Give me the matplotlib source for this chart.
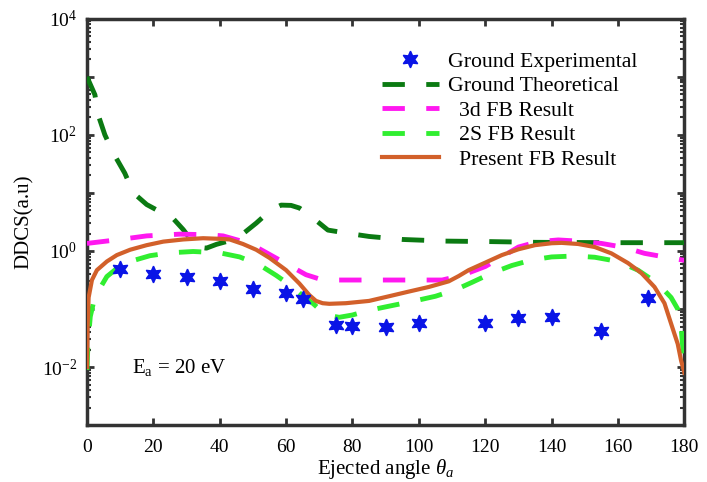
import numpy as np
import matplotlib
matplotlib.use("Agg")
import matplotlib.pyplot as plt
from matplotlib.ticker import LogLocator, FuncFormatter, NullFormatter

plt.rcParams['font.family'] = ['Liberation Serif', 'DejaVu Serif']
plt.rcParams['mathtext.fontset'] = 'custom'
plt.rcParams['mathtext.rm'] = 'Liberation Serif'
plt.rcParams['mathtext.it'] = 'Liberation Serif:italic'

# Ground Experimental (stars)
exp_x = [10, 20, 30, 40, 50, 60, 65, 75, 80, 90, 100, 120, 130, 140, 155, 169]
exp_y = [0.49, 0.40, 0.35, 0.30, 0.22, 0.19, 0.147, 0.054, 0.052, 0.050, 0.057,
         0.058, 0.070, 0.074, 0.042, 0.157]

# Ground Theoretical
theo_x = [0, 1.2, 2.4, 3.4, 5.4, 8, 11.4, 14, 18, 21, 25, 29, 33, 36, 39, 42, 46, 51,
          55.5, 58.5, 61.5, 64, 67, 72.6, 79, 85, 95, 108, 122, 135, 160, 180]
theo_y = [1000, 700, 490, 219, 100, 47.9, 21.9, 10, 6.31, 5.1, 4.17, 2.34, 1.17,
          1.12, 1.3, 1.45, 1.78, 3.02, 5.13, 6.17, 6.1, 5.5, 4.17, 2.29, 2.0, 1.78,
          1.58, 1.48, 1.45, 1.41, 1.39, 1.39]

# 3d FB Result
d3_x = [0, 10, 18, 28, 36, 41, 46, 51, 58, 66, 70, 74, 90, 107, 113, 120, 125, 130,
        136, 142, 148, 155, 162, 168, 174, 180]
d3_y = [1.35, 1.58, 1.82, 1.95, 1.91, 1.82, 1.51, 1.17, 0.70, 0.39, 0.33, 0.316,
        0.316, 0.316, 0.38, 0.54, 0.79, 1.17, 1.45, 1.55, 1.48, 1.35, 1.15, 0.91,
        0.79, 0.69]

# 2S FB Result
s2_x = [0, 0.3, 1, 2, 3, 6, 9, 13, 19, 25, 32, 40, 46, 52, 57, 62, 66, 68, 72, 76,
        80, 85, 92, 98, 105, 111, 116, 122, 128, 134, 140, 147, 153, 160, 166, 172,
        176, 178, 179, 180]
s2_y = [0.0089, 0.025, 0.074, 0.132, 0.186, 0.363, 0.50, 0.66, 0.83, 0.93, 0.98,
        0.93, 0.79, 0.575, 0.38, 0.24, 0.151, 0.126, 0.079, 0.072, 0.079, 0.095,
        0.115, 0.135, 0.166, 0.214, 0.288, 0.417, 0.562, 0.70, 0.79, 0.82, 0.78,
        0.66, 0.468, 0.275, 0.158, 0.10, 0.05, 0.010]

# Present FB Result
fb_x = [0, 0.2, 0.5, 1.5, 3, 6, 9, 13, 18, 23, 29, 35, 40, 43, 47, 51, 55, 60, 64,
        67, 69, 71, 73, 78, 85, 91, 97, 103, 109, 112, 115, 120, 125, 130, 135, 140,
        143, 148, 153, 158, 163, 167, 171, 174, 176, 178, 179, 180]
fb_y = [0.010, 0.050, 0.158, 0.316, 0.468, 0.66, 0.85, 1.05, 1.26, 1.45, 1.58,
        1.66, 1.62, 1.58, 1.32, 1.05, 0.76, 0.468, 0.275, 0.174, 0.138, 0.126, 0.123,
        0.126, 0.138, 0.166, 0.20, 0.24, 0.30, 0.37, 0.468, 0.63, 0.85, 1.07, 1.26,
        1.36, 1.38, 1.32, 1.17, 0.91, 0.62, 0.42, 0.24, 0.126, 0.056, 0.025, 0.013,
        0.008]

x_ticks = [0, 20, 40, 60, 80, 100, 120, 140, 160, 180]

fig = plt.figure(figsize=(7.07, 4.82), dpi=100)
ax = fig.add_axes([0.123, 0.118, 0.845, 0.843])

dash = (4.6, 4.4)
ax.plot(exp_x, exp_y, linestyle='none', marker=(6, 1, 0), markersize=12,
        color='#0a14e6', label='Ground Experimental', zorder=5)
ax.plot(theo_x, theo_y, color='#0b7a12', lw=3.5, dashes=dash,
        label='Ground Theoretical', zorder=3)
ax.plot(d3_x, d3_y, color='#ff18f0', lw=3.5, dashes=dash,
        label='  3d FB Result', zorder=3)
ax.plot(s2_x, s2_y, color='#30ee30', lw=3.5, dashes=dash,
        label='  2S FB Result', zorder=3)
ax.plot(fb_x, fb_y, color='#d2602a', lw=3.0, label='  Present FB Result', zorder=4)

ax.set_yscale('log')
ax.set_xlim(0, 180)
ax.set_ylim(1e-3, 1e4)
ax.set_xticks(x_ticks)
ax.yaxis.set_major_locator(LogLocator(base=10, numticks=20))
ax.yaxis.set_minor_locator(LogLocator(base=10, subs=np.arange(2, 10), numticks=20))
ax.yaxis.set_minor_formatter(NullFormatter())


def fmt(v, pos):
    e = int(round(np.log10(v)))
    if e % 2 == 0 and -2 <= e <= 4:
        return r'$\mathregular{10^{%d}}$' % e
    return ''


ax.yaxis.set_major_formatter(FuncFormatter(fmt))
ax.tick_params(axis='both', which='both', direction='in', top=True, right=True,
               labelsize=14, color='#333333')
ax.tick_params(axis='both', which='major', length=5, width=2)
ax.tick_params(axis='x', which='major', pad=10)
ax.tick_params(axis='y', which='major', pad=7)
ax.tick_params(axis='y', which='minor', length=3, width=1.5)
for s in ax.spines.values():
    s.set_linewidth(2.5)
    s.set_color('#333333')

ax.set_xlabel(r'Ejected angle $\theta_a$', fontsize=15, labelpad=1)
ax.set_ylabel('DDCS(a.u)', fontsize=15, labelpad=6)
ax.text(13.5, 0.01, r'E$_\mathregular{a}$ = 20 eV', fontsize=15, ha='left', va='center')

leg = ax.legend(loc='upper left', bbox_to_anchor=(0.494, 0.92), frameon=False,
                fontsize=15.7, handlelength=2.6, handletextpad=0.4, labelspacing=0.2,
                borderaxespad=0.0, borderpad=0.0)

fig.savefig('out.png', dpi=100)
